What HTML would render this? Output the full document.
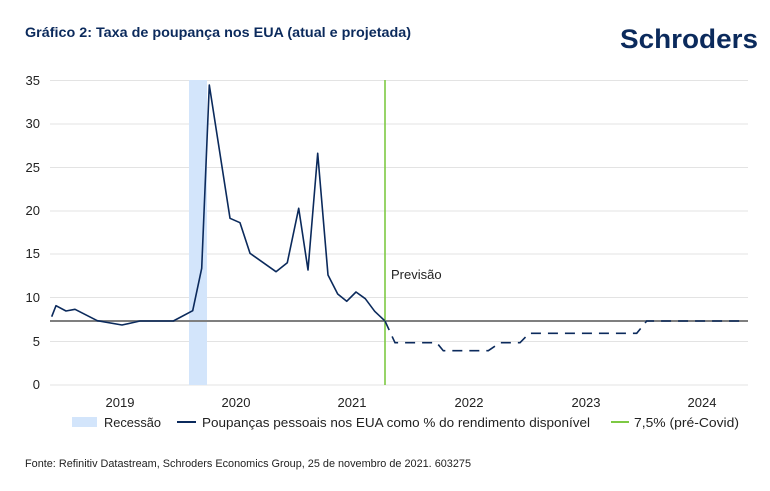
<!DOCTYPE html>
<html><head><meta charset="utf-8"><style>
html,body{margin:0;padding:0;background:#fff;}
svg{display:block;font-family:"Liberation Sans",sans-serif;}
</style></head><body>
<svg width="770" height="491" viewBox="0 0 770 491" xmlns="http://www.w3.org/2000/svg">
<rect width="770" height="491" fill="#fff"/>
<text x="25" y="37" font-size="14" font-weight="bold" fill="#0b2a5c" textLength="386" lengthAdjust="spacingAndGlyphs">Gráfico 2: Taxa de poupança nos EUA (atual e projetada)</text>
<text x="620" y="48" font-size="27" font-weight="bold" fill="#0b2a5c" textLength="138" lengthAdjust="spacingAndGlyphs">Schroders</text>
<g stroke="#e3e3e3" stroke-width="1">
<line x1="50" x2="748" y1="80.5" y2="80.5"/>
<line x1="50" x2="748" y1="124" y2="124"/>
<line x1="50" x2="748" y1="167.5" y2="167.5"/>
<line x1="50" x2="748" y1="211" y2="211"/>
<line x1="50" x2="748" y1="254" y2="254"/>
<line x1="50" x2="748" y1="297.5" y2="297.5"/>
<line x1="50" x2="748" y1="341.5" y2="341.5"/>
<line x1="50" x2="748" y1="385" y2="385"/>
</g>
<g font-size="13" fill="#222" text-anchor="end">
<text x="40" y="85">35</text><text x="40" y="128">30</text><text x="40" y="172">25</text><text x="40" y="215">20</text>
<text x="40" y="258">15</text><text x="40" y="302">10</text><text x="40" y="346">5</text><text x="40" y="389">0</text>
</g>
<rect x="189" y="80" width="18" height="305" fill="#d3e5fb"/>
<line x1="50" x2="748" y1="321" y2="321" stroke="#7f7f7f" stroke-width="2"/>
<line x1="385" x2="385" y1="80" y2="385" stroke="#7dc943" stroke-width="1.6"/>
<text x="391" y="279" font-size="13" fill="#222">Previsão</text>
<polyline fill="none" stroke="#0b2a5c" stroke-width="1.6" stroke-linejoin="round" points="51.7,316.7 56,305.7 66,311 75,309.3 97.3,320.7 122,325 140,321 173.3,321 192.7,310.7 201.7,268.3 209.3,85 230,218.3 240,222.7 250,253.3 276,271.7 287.3,262.7 298.7,208.3 308,270 317.7,153.3 328,275 337.7,294 346.7,301.3 356,292 365.3,298.7 374.7,311.3 384.7,320.7"/>
<polyline fill="none" stroke="#0b2a5c" stroke-width="1.6" stroke-dasharray="10,7" points="385,321 395,342.7 436.7,342.7 443.3,350.7 488.3,350.7 500,342.7 520,342.7 529.3,333.3 636.7,333.3 646.7,321 745,321"/>
<g font-size="13" fill="#222" text-anchor="middle">
<text x="120" y="407">2019</text><text x="236" y="407">2020</text><text x="352" y="407">2021</text>
<text x="469" y="407">2022</text><text x="586" y="407">2023</text><text x="702" y="407">2024</text>
</g>
<rect x="72" y="417" width="25" height="10" fill="#d3e5fb"/>
<text x="104" y="427" font-size="13" fill="#222" textLength="57" lengthAdjust="spacingAndGlyphs">Recessão</text>
<line x1="177" x2="196" y1="422" y2="422" stroke="#0b2a5c" stroke-width="2"/>
<text x="202" y="427" font-size="13" fill="#222" textLength="388" lengthAdjust="spacingAndGlyphs">Poupanças pessoais nos EUA como % do rendimento disponível</text>
<line x1="611" x2="629" y1="422" y2="422" stroke="#7dc943" stroke-width="2"/>
<text x="634" y="427" font-size="13" fill="#222" textLength="105" lengthAdjust="spacingAndGlyphs">7,5% (pré-Covid)</text>
<text x="25" y="467" font-size="11" fill="#222" textLength="446" lengthAdjust="spacingAndGlyphs">Fonte: Refinitiv Datastream, Schroders Economics Group, 25 de novembro de 2021. 603275</text>
</svg>
</body></html>
